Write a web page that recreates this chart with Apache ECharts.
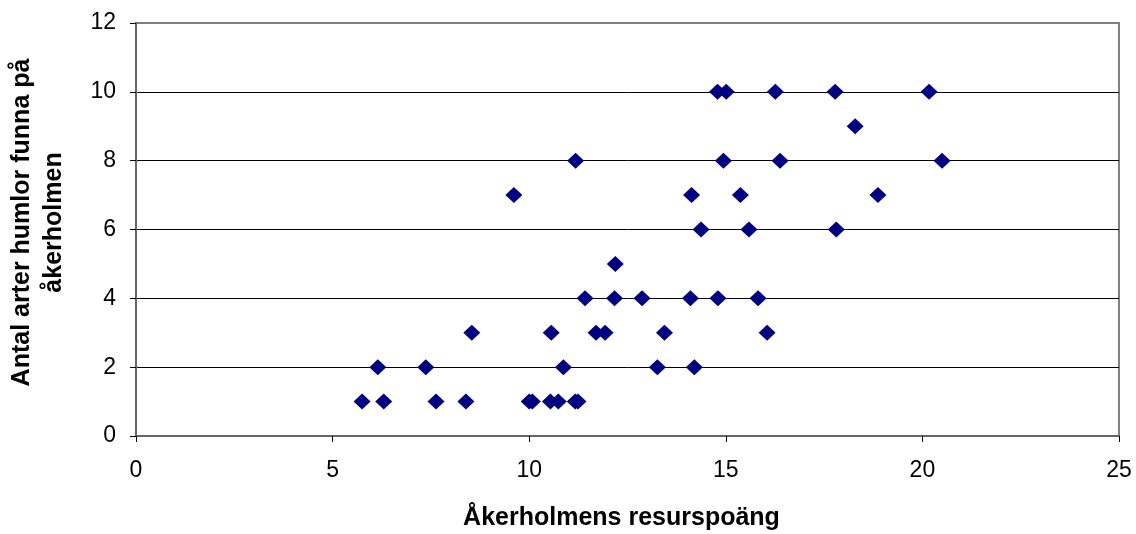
<!DOCTYPE html>
<html>
<head>
<meta charset="utf-8">
<script src="https://cdn.jsdelivr.net/npm/echarts@6/dist/echarts.min.js"></script>
<style>
  html, body { margin: 0; padding: 0; background: #fff; }
  #chart { width: 1136px; height: 534px; }
</style>
</head>
<body>
<div id="chart"></div>
<script>
// Resource score of each field islet (x) and number of bumblebee species found there (y)
const resursPoang = [
  5.75, 6.30, 7.63, 8.39, 10.00, 10.08, 10.54, 10.74, 11.17, 11.24,
  6.15, 7.37, 10.87, 13.26, 14.20,
  8.54, 10.56, 11.70, 11.93, 13.44, 16.05,
  11.42, 12.17, 12.87, 14.10, 14.80, 15.82,
  12.19,
  14.37, 15.59, 17.81,
  9.61, 14.13, 15.37, 18.87,
  11.18, 14.94, 16.38, 20.50,
  18.29,
  14.79, 15.01, 16.26, 17.78, 20.17
];
const antalArter = [
  1, 1, 1, 1, 1, 1, 1, 1, 1, 1,
  2, 2, 2, 2, 2,
  3, 3, 3, 3, 3, 3,
  4, 4, 4, 4, 4, 4,
  5,
  6, 6, 6,
  7, 7, 7, 7,
  8, 8, 8, 8,
  9,
  10, 10, 10, 10, 10
];
const xTitle = 'Åkerholmens resurspoäng';
const yTitle = 'Antal arter humlor funna på\nåkerholmen';

const points = resursPoang.map((x, i) => [x, antalArter[i]]);
const font = "'Liberation Sans', Arial, sans-serif";

const chart = echarts.init(document.getElementById('chart'), null, { renderer: 'canvas' });
chart.setOption({
  animation: false,
  backgroundColor: '#ffffff',
  grid: {
    left: 136, right: 17, top: 23, bottom: 98,
    outerBoundsMode: 'none',
    containLabel: false,
    show: true,
    borderColor: '#808080',
    borderWidth: 2,
    backgroundColor: '#ffffff'
  },
  xAxis: {
    type: 'value',
    min: 0, max: 25, interval: 5,
    name: xTitle,
    nameLocation: 'middle',
    nameGap: 70,
    nameTextStyle: { fontFamily: font, fontSize: 25, fontWeight: 'bold', color: '#000', padding: [0, 12, 0, 0] },
    axisLine: { show: true, onZero: false, lineStyle: { color: '#666666', width: 2 } },
    axisTick: { show: true, inside: false, length: 6, lineStyle: { color: '#000' } },
    axisLabel: { fontFamily: font, fontSize: 23, color: '#000', margin: 23 },
    splitLine: { show: false }
  },
  yAxis: {
    type: 'value',
    min: 0, max: 12, interval: 2,
    name: yTitle,
    nameLocation: 'middle',
    nameRotate: 90,
    nameGap: 66,
    nameTextStyle: { fontFamily: font, fontSize: 25, fontWeight: 'bold', color: '#000', lineHeight: 32, padding: [0, 0, 0, 14] },
    axisLine: { show: true, onZero: false, lineStyle: { color: '#666666', width: 2 } },
    axisTick: { show: true, inside: false, length: 6, lineStyle: { color: '#000' } },
    axisLabel: { fontFamily: font, fontSize: 23, color: '#000', margin: 20 },
    splitLine: {
      show: true,
      lineStyle: { color: ['#000', '#000', '#000', '#000', '#000', '#000', '#808080'], width: 1 }
    }
  },
  series: [{
    type: 'scatter',
    data: points,
    symbol: 'diamond',
    symbolSize: [17, 16],
    itemStyle: { color: '#000080', opacity: 1 }
  }]
});
</script>
</body>
</html>
